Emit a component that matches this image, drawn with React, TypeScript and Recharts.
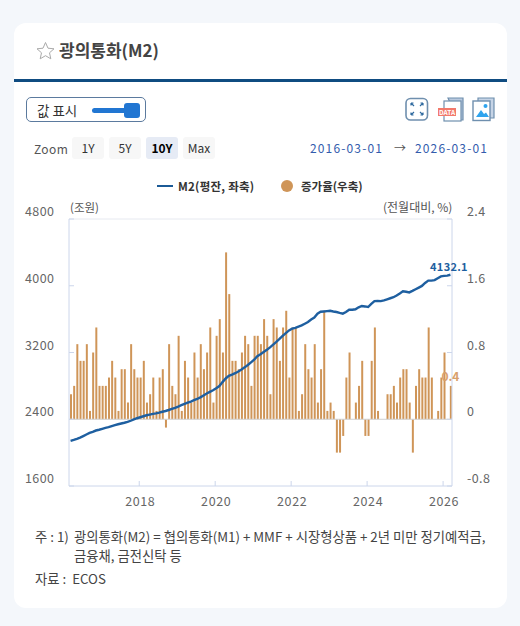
import React from 'react';
import { ComposedChart, Bar, Line, XAxis, YAxis, ReferenceLine, ReferenceDot, Legend } from 'recharts';

const FONT = '"Noto Sans CJK KR", "Noto Sans", sans-serif';

const startYear = 2016;
const startMonth = 3;

const m2Values = [
    2141, 2152, 2165, 2180, 2198, 2217, 2236, 2250, 2265, 2274, 2285, 2296,
    2305, 2318, 2330, 2340, 2349, 2358, 2368, 2382, 2398, 2412, 2424, 2436,
    2448, 2456, 2464, 2471, 2480, 2490, 2499, 2511, 2524, 2537, 2552, 2568,
    2583, 2598, 2612, 2628, 2643, 2662, 2685, 2708, 2728, 2748, 2772, 2798,
    2845, 2889, 2920, 2935, 2952, 2972, 2996, 3022, 3050, 3082, 3115, 3155,
    3178, 3205, 3232, 3262, 3295, 3327, 3362, 3399, 3432, 3465, 3486, 3495,
    3510, 3525, 3545, 3565, 3596, 3618, 3665, 3688, 3692, 3696, 3700, 3692,
    3685, 3675, 3666, 3685, 3712, 3712, 3718, 3742, 3758, 3752, 3745, 3782,
    3816, 3818, 3816, 3825, 3838, 3850, 3862, 3884, 3908, 3934, 3928, 3920,
    3938, 3958, 3978, 3998, 4034, 4062, 4062, 4068, 4090, 4112, 4118, 4122,
    4132.1,
];

const rateValues = [
    0.3, 0.4, 0.9, 0.7, 0.7, 0.9, 0.1, 0.8, 1.1, 0.4, 0.4, 0.4,
    0.5, 0.7, 0.5, 0.1, 0.6, 0.6, 0.2, 0.9, 0.6, 0.5, 0.5, 0.7,
    0.2, 0.3, 0.5, 0.1, 0.5, 0.6, -0.1, 0.9, 0.4, 0.3, 1.0, 0.1,
    0.7, 0.5, 0.2, 0.8, 0.5, 0.9, 0.6, 0.8, 1.1, 0.2, 1.0, 1.2,
    0.8, 2.0, 1.5, 0.7, 0.7, 0.6, 0.8, 1.0, 0.9, 0.4, 1.0, 1.0,
    0.9, 1.2, 1.0, 0.3, 1.2, 1.1, 0.7, 1.1, 1.3, 0.5, 1.1, 1.1,
    0.1, 0.3, 0.9, 0.6, 0.5, 0.9, 0.2, 0.6, 1.3, 0.1, 0.2, 0.1,
    -0.4, -0.4, -0.2, 0.5, 0.8, 0, 0.2, 0.4, 0.7, -0.2, -0.2, 0.7,
    1.1, 0.1, 0, 0, 0.3, 0.3, 0.4, 0.2, 0.5, 0.6, 0.6, 0.2,
    -0.4, 0.4, 0.6, 0.5, 0.5, 1.1, 0.5, 0, 0.1, 0.5, 0.8, 0,
    0.4,
];

const leftTicks = [1600, 2400, 3200, 4000, 4800];
const rightTicks = [-0.8, 0, 0.8, 1.6, 2.4];
const yearTicks = ['2018-01', '2020-01', '2022-01', '2024-01', '2026-01'];
const zoomButtons = ['1Y', '5Y', '10Y', 'Max'];

const chartData = m2Values.map((m2, i) => {
    const total = startYear * 12 + (startMonth - 1) + i;
    const month = `${Math.floor(total / 12)}-${String((total % 12) + 1).padStart(2, '0')}`;
    return { month, m2, rate: rateValues[i] };
});

const AXIS_COLOR = '#ccd6eb';
const LINE_COLOR = '#1e5fa0';
const BAR_COLOR = '#cf9558';
const lastIndex = chartData.length - 1;
const lastPoint = chartData[lastIndex];

function LeftTick({ x, y, payload }: any) {
    return (
        <g>
            <line x1={x} x2={x + 5} y1={y} y2={y} stroke={AXIS_COLOR} />
            <text x={x - 44} y={y - 3} fill="#666" fontSize={12.5} fontFamily={FONT} letterSpacing={0.4}>
                {payload.value}
            </text>
        </g>
    );
}

function RightTick({ x, y, payload }: any) {
    return (
        <g>
            <line x1={x} x2={x - 5} y1={y} y2={y} stroke={AXIS_COLOR} />
            <text x={x + 15} y={y - 3} fill="#666" fontSize={12.5} fontFamily={FONT} letterSpacing={0.4}>
                {payload.value}
            </text>
        </g>
    );
}

function YearTick({ x, y, payload }: any) {
    return (
        <g>
            <line x1={x - 1} x2={x - 1} y1={y} y2={y - 5} stroke={AXIS_COLOR} />
            <text x={x} y={y + 20} fill="#666" fontSize={12.5} fontFamily={FONT} letterSpacing={0.6} textAnchor="middle">
                {payload.value.slice(0, 4)}
            </text>
        </g>
    );
}

function LineEndLabel({ x, y, index, value }: any) {
    if (index !== lastIndex) return null;
    return (
        <text x={x + 17.5} y={y - 4} fill={LINE_COLOR} fontSize={11} fontWeight={700} fontFamily={FONT} textAnchor="end" letterSpacing={0.3}>
            {value}
        </text>
    );
}

function ChartLegend() {
    return (
        <div style={{ display: 'flex', justifyContent: 'flex-start', alignItems: 'center', height: 16, fontFamily: FONT, fontSize: 11.5, fontWeight: 700, color: '#333' }}>
            <span style={{ width: 16, height: 2, background: '#1b5a96', marginLeft: 157, marginRight: 5 }} />
            <span style={{ width: 78, whiteSpace: 'nowrap', letterSpacing: 0.25 }}>M2(평잔, 좌축)</span>
            <span style={{ width: 12, height: 12, borderRadius: 6, background: BAR_COLOR, marginLeft: 25, marginRight: 8 }} />
            <span style={{ whiteSpace: 'nowrap' }}>증가율(우축)</span>
        </div>
    );
}

function Icons() {
    return (
        <svg width={100} height={36} style={{ position: 'absolute', left: 400, top: 90 }}>
            <rect x={6} y={8.5} width={21.5} height={21.5} rx={4.5} fill="#fff" stroke="#6f8fae" strokeWidth={1.6} />
            <path d="M11 13 l3 3 M11 13 h2.5 M11 13 v2.5 M23 13 l-3 3 M23 13 h-2.5 M23 13 v2.5 M11 25 l3 -3 M11 25 h2.5 M11 25 v-2.5 M23 25 l-3 -3 M23 25 h-2.5 M23 25 v-2.5" fill="none" stroke="#2f6a9f" strokeWidth={1.2} />
            <path d="M48 8 h15 v22 h-5 z" fill="#b9c9de" stroke="#6f8fae" strokeWidth={1.2} />
            <rect x={44} y={11} width={17} height={20} fill="#fff" stroke="#6f8fae" strokeWidth={1.2} />
            <rect x={38} y={18} width={18} height={8} fill="#f2796b" />
            <text x={47} y={25} fill="#fff" fontSize={6.5} fontWeight={700} textAnchor="middle" fontFamily={FONT}>DATA</text>
            <path d="M78 11 v-3 h16 v20 h-4 z" fill="#c6d4e6" stroke="#6f8fae" strokeWidth={1.2} />
            <rect x={73} y={11} width={17} height={19.5} fill="#fff" stroke="#6f8fae" strokeWidth={1.4} />
            <circle cx={85.5} cy={16} r={2} fill="#2fa4ee" />
            <path d="M76 27 l5 -7 l3 4 l2 -1.5 l3 4.5 z" fill="#2fa4ee" />
        </svg>
    );
}

export default function App() {
    return (
        <div style={{ position: 'absolute', left: 0, top: 0, width: 520, height: 626, background: '#f4f7fb', fontFamily: FONT, overflow: 'hidden' }}>
            <div style={{ position: 'absolute', left: 14, top: 23, width: 493, height: 585, background: '#fff', borderRadius: 12 }} />

            {/* header */}
            <svg width={20} height={20} style={{ position: 'absolute', left: 36, top: 41 }}>
                <path d="M9.5 1.5 L12 7.2 L18 7.8 L13.5 11.8 L14.8 17.8 L9.5 14.7 L4.2 17.8 L5.5 11.8 L1 7.8 L7 7.2 Z" fill="none" stroke="#aaa" strokeWidth={1} />
            </svg>
            <div style={{ position: 'absolute', left: 59, top: 38, fontSize: 17, fontWeight: 700, color: '#444', whiteSpace: 'nowrap', lineHeight: '24px' }}>광의통화(M2)</div>
            <div style={{ position: 'absolute', left: 14, top: 79, width: 493, height: 3, background: '#0f4c81' }} />

            {/* toggle */}
            <div style={{ position: 'absolute', left: 26, top: 97, width: 118, height: 23, border: '1px solid #5b7a9e', borderRadius: 5 }} />
            <div style={{ position: 'absolute', left: 37, top: 100, fontSize: 13.5, color: '#333', lineHeight: '20px', whiteSpace: 'nowrap' }}>값 표시</div>
            <div style={{ position: 'absolute', left: 92, top: 107.5, width: 38, height: 5, borderRadius: 3, background: '#2176d2' }} />
            <div style={{ position: 'absolute', left: 124, top: 103, width: 16, height: 15, borderRadius: 3, background: '#2176d2' }} />
            <Icons />

            {/* range selector */}
            <div style={{ position: 'absolute', left: 34, top: 139, fontSize: 12, color: '#555', lineHeight: '20px', letterSpacing: 0.4 }}>Zoom</div>
            {zoomButtons.map((label, i) => (
                <div
                    key={label}
                    style={{
                        position: 'absolute',
                        left: 72 + i * 37,
                        top: 137,
                        width: 32,
                        height: 22,
                        borderRadius: 3,
                        background: label === '10Y' ? '#e6ebf5' : '#f7f7f7',
                        color: label === '10Y' ? '#000' : '#333',
                        fontWeight: label === '10Y' ? 700 : 400,
                        fontSize: 12,
                        textAlign: 'center',
                        lineHeight: '22px',
                    }}
                >
                    {label}
                </div>
            ))}
            <div style={{ position: 'absolute', left: 310, top: 138, fontSize: 12, color: '#335cad', lineHeight: '20px', letterSpacing: 1.15, whiteSpace: 'nowrap' }}>2016-03-01</div>
            <div style={{ position: 'absolute', left: 394, top: 138, fontSize: 12, color: '#555', lineHeight: '20px' }}>→</div>
            <div style={{ position: 'absolute', left: 415, top: 138, fontSize: 12, color: '#335cad', lineHeight: '20px', letterSpacing: 1.15, whiteSpace: 'nowrap' }}>2026-03-01</div>

            <div style={{ position: 'absolute', left: 70, top: 198, fontSize: 11.5, color: '#555', lineHeight: '18px' }}>(조원)</div>
            <div style={{ position: 'absolute', left: 383, top: 198, fontSize: 12, color: '#555', lineHeight: '18px', whiteSpace: 'nowrap' }}>(전월대비, %)</div>

            {/* chart */}
            <div style={{ position: 'absolute', left: 0, top: 170 }}>
                <ComposedChart
                    width={520}
                    height={360}
                    data={chartData}
                    margin={{ top: 33, right: 67, bottom: 0, left: 68 }}
                >
                    <XAxis
                        dataKey="month"
                        ticks={yearTicks}
                        interval={0}
                        tick={<YearTick />}
                        tickLine={false}
                        tickSize={0}
                        tickMargin={0}
                        height={44}
                        axisLine={{ stroke: AXIS_COLOR }}
                    />
                    <YAxis
                        yAxisId="left"
                        orientation="left"
                        width={1}
                        domain={[1600, 4800]}
                        ticks={leftTicks}
                        interval={0}
                        tick={<LeftTick />}
                        tickLine={false}
                        tickSize={0}
                        tickMargin={0}
                        axisLine={{ stroke: AXIS_COLOR }}
                    />
                    <YAxis
                        yAxisId="right"
                        orientation="right"
                        width={1}
                        domain={[-0.8, 2.4]}
                        ticks={rightTicks}
                        interval={0}
                        tick={<RightTick />}
                        tickLine={false}
                        tickSize={0}
                        tickMargin={0}
                        axisLine={{ stroke: AXIS_COLOR }}
                    />
                    <Legend
                        verticalAlign="top"
                        align="left"
                        content={<ChartLegend />}
                        wrapperStyle={{ left: 0, top: 8, width: 520 }}
                    />
                    <ReferenceLine yAxisId="left" y={4800} stroke="#e6e9f0" />
                    <ReferenceLine yAxisId="right" y={0} stroke="#d0d0d0" />
                    <Bar
                        yAxisId="right"
                        dataKey="rate"
                        name="증가율(우축)"
                        fill={BAR_COLOR}
                        barSize={2}
                        isAnimationActive={false}
                    />
                    <Line
                        yAxisId="left"
                        dataKey="m2"
                        name="M2(평잔, 좌축)"
                        type="linear"
                        stroke={LINE_COLOR}
                        strokeWidth={2.4}
                        dot={false}
                        isAnimationActive={false}
                        label={<LineEndLabel />}
                    />
                    <ReferenceDot
                        yAxisId="right"
                        x={lastPoint.month}
                        y={lastPoint.rate}
                        r={0}
                        stroke="none"
                        fill="none"
                        label={{
                            value: lastPoint.rate,
                            position: 'top',
                            fill: '#d8a06c',
                            fontSize: 12,
                            fontWeight: 700,
                            fontFamily: FONT,
                        }}
                    />
                </ComposedChart>
            </div>

            {/* notes */}
            <div style={{ position: 'absolute', left: 35, top: 527, fontSize: 13.33, color: '#444', lineHeight: '20px', whiteSpace: 'nowrap' }}>주 : 1)</div>
            <div style={{ position: 'absolute', left: 74, top: 527, fontSize: 13.33, color: '#444', lineHeight: '20px', whiteSpace: 'nowrap' }}>광의통화(M2) = 협의통화(M1) + MMF + 시장형상품 + 2년 미만 정기예적금,</div>
            <div style={{ position: 'absolute', left: 74, top: 546, fontSize: 13.33, color: '#444', lineHeight: '20px', whiteSpace: 'nowrap' }}>금융채, 금전신탁 등</div>
            <div style={{ position: 'absolute', left: 35, top: 569, fontSize: 13.33, color: '#444', lineHeight: '20px', whiteSpace: 'nowrap' }}>자료 :&nbsp; ECOS</div>
        </div>
    );
}
